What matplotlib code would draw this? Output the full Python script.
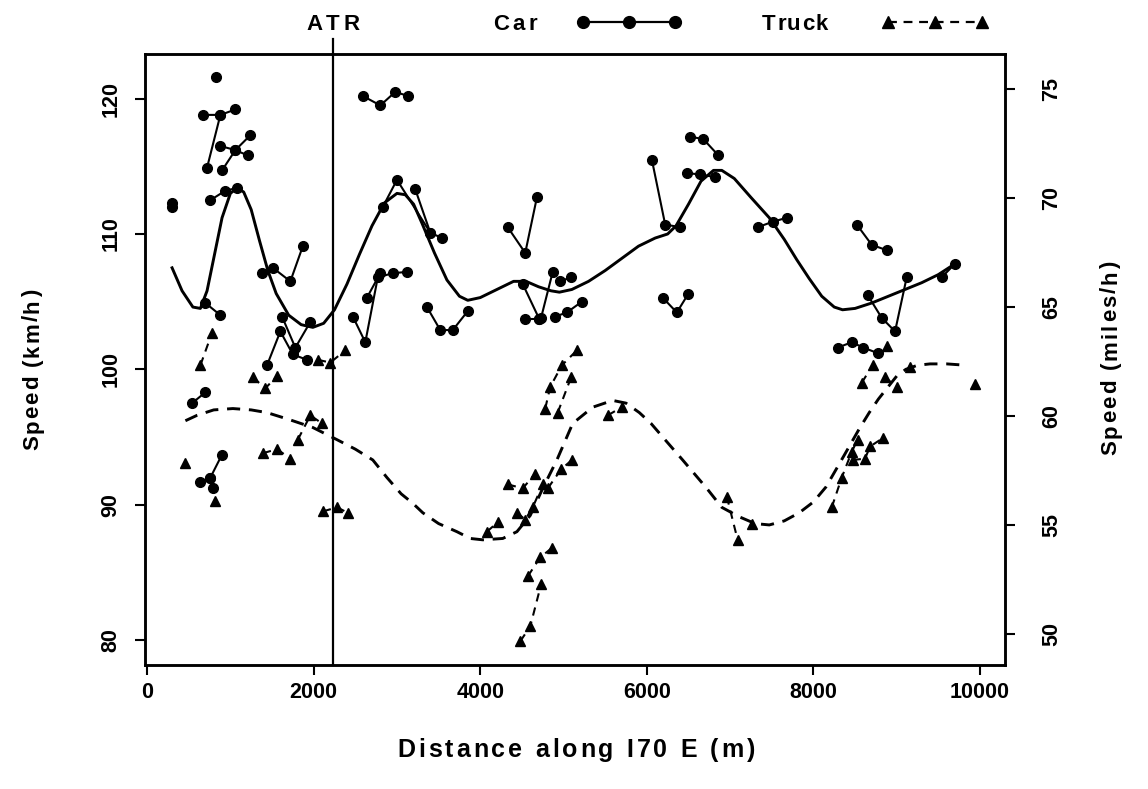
import numpy as np
import matplotlib
matplotlib.use("Agg")
import matplotlib.pyplot as plt
from matplotlib.lines import Line2D
from matplotlib.transforms import blended_transform_factory
from matplotlib.font_manager import FontProperties

FAMILY = ['Liberation Sans', 'DejaVu Sans']
plt.rcParams['font.family'] = FAMILY
plt.rcParams['font.weight'] = 'bold'

# ---------------- data ----------------
# car observations: distance (m), speed (km/h), trajectory id
car_dist = np.array([
    300, 300, 830,
    670, 880, 1060, 720, 880,
    900, 1060, 1240, 880, 1060, 1210,
    760, 940, 1080, 700, 880, 540, 700,
    640, 760, 900, 760, 790,
    1380, 1510, 1720, 1870, 1620, 1780, 1960,
    1440, 1600, 1750, 1920,
    2590, 2800, 2980, 3130,
    2830, 3000, 3400, 3540, 3220, 3400,
    2470, 2620, 2770, 2950, 3120, 2640, 2800,
    3360, 3520, 3670, 3850,
    4330, 4540, 4680, 4510, 4710, 4730, 4870, 4540, 4700,
    4900, 5040, 5220, 4960, 5090,
    6190, 6360, 6500, 6060, 6220, 6400,
    6520, 6680, 6860, 6480, 6640, 6820,
    7330, 7510, 7680, 8520, 8700, 8880,
    8650, 8820, 8980, 9120, 9540, 9700,
    8290, 8460, 8600, 8770])
car_speed = np.array([
    112.0, 112.3, 121.6,
    118.8, 118.8, 119.2, 114.9, 118.8,
    114.7, 116.2, 117.3, 116.5, 116.2, 115.8,
    112.5, 113.2, 113.4, 104.9, 104.0, 97.5, 98.3,
    91.7, 92.0, 93.7, 92.0, 91.2,
    107.1, 107.5, 106.5, 109.1, 103.9, 101.6, 103.5,
    100.3, 102.8, 101.1, 100.7,
    120.2, 119.5, 120.5, 120.2,
    112.0, 114.0, 110.1, 109.7, 113.3, 110.1,
    103.9, 102.0, 106.8, 107.1, 107.2, 105.3, 107.1,
    104.6, 102.9, 102.9, 104.3,
    110.5, 108.6, 112.7, 106.3, 103.7, 103.8, 107.2, 103.7, 103.7,
    103.9, 104.2, 105.0, 106.5, 106.8,
    105.3, 104.2, 105.6, 115.5, 110.7, 110.5,
    117.2, 117.0, 115.8, 114.5, 114.4, 114.2,
    110.5, 110.9, 111.2, 110.7, 109.2, 108.8,
    105.5, 103.8, 102.8, 106.8, 106.8, 107.8,
    101.6, 102.0, 101.6, 101.2])
car_group = np.array([
    1, 1, 2,
    3, 3, 3, 4, 4,
    5, 5, 5, 6, 6, 6,
    7, 7, 7, 8, 8, 9, 9,
    10, 10, 10, 11, 11,
    12, 12, 12, 12, 13, 13, 13,
    14, 14, 14, 14,
    15, 15, 15, 15,
    16, 16, 16, 16, 17, 17,
    18, 18, 18, 18, 18, 19, 19,
    20, 20, 20, 20,
    21, 21, 21, 22, 22, 23, 23, 24, 24,
    25, 25, 25, 26, 26,
    27, 27, 27, 28, 28, 28,
    29, 29, 29, 30, 30, 30,
    31, 31, 31, 32, 32, 32,
    33, 33, 33, 33, 34, 34,
    35, 35, 35, 35])

# truck observations: distance (m), speed (km/h), trajectory id
truck_dist = np.array([
    460, 820, 640, 780,
    1270, 1420, 1560, 1390, 1560, 1720,
    1810, 1960, 2100, 2050, 2200, 2380, 2110, 2280, 2410,
    4080, 4210, 4330, 4510, 4660, 4440, 4540, 4630, 4750,
    4480, 4600, 4730, 4570, 4720, 4860,
    4810, 4970, 5100, 4780, 4840, 4980, 5160, 4930, 5090,
    5530, 5700, 6960, 7090, 7260,
    8220, 8340, 8460, 8530, 8470, 8620, 8680, 8830,
    8580, 8710, 8880, 8860, 9000, 9160, 9940])
truck_speed = np.array([
    93.1, 90.3, 100.3, 102.7,
    99.4, 98.6, 99.5, 93.8, 94.1, 93.4,
    94.8, 96.6, 96.0, 100.7, 100.5, 101.4, 89.5, 89.8, 89.4,
    88.0, 88.7, 91.5, 91.2, 92.3, 89.4, 88.9, 89.8, 91.5,
    79.9, 81.0, 84.1, 84.7, 86.1, 86.8,
    91.2, 92.6, 93.3, 97.1, 98.7, 100.3, 101.4, 96.8, 99.4,
    96.6, 97.2, 90.6, 87.4, 88.6,
    89.8, 92.0, 93.9, 94.8, 93.3, 93.4, 94.3, 94.9,
    99.0, 100.3, 101.7, 99.4, 98.7, 100.2, 98.9])
truck_group = np.array([
    1, 2, 3, 3,
    4, 4, 4, 5, 5, 5,
    6, 6, 6, 7, 7, 7, 8, 8, 8,
    9, 9, 10, 10, 10, 11, 11, 11, 11,
    12, 12, 12, 13, 13, 13,
    14, 14, 14, 15, 15, 15, 15, 16, 16,
    17, 17, 18, 18, 19,
    20, 20, 20, 20, 21, 21, 21, 21,
    22, 22, 22, 23, 23, 24, 25])

# smoothed mean speed curves
car_curve_dist = np.array([
    300, 420, 550, 640, 720, 800, 900, 1000, 1080, 1160, 1250, 1350, 1450,
    1550, 1700, 1850, 1990, 2120, 2250, 2400, 2550, 2700, 2850, 3000, 3100,
    3200, 3300, 3450, 3600, 3750, 3850, 4000, 4200, 4400, 4550, 4700, 4850,
    4950, 5100, 5300, 5500, 5700, 5900, 6100, 6250, 6350, 6500, 6650, 6800,
    6900, 7050, 7250, 7470, 7650, 7800, 7950, 8100, 8250, 8350, 8500, 8700,
    8900, 9100, 9300, 9500, 9700])
car_curve_speed = np.array([
    107.5, 105.8, 104.6, 104.5, 105.8, 108.2, 111.2, 113.0, 113.4, 113.1,
    111.8, 109.5, 107.3, 105.6, 104.0, 103.3, 103.1, 103.4, 104.4, 106.3,
    108.5, 110.6, 112.3, 113.0, 112.9, 112.2, 110.8, 108.6, 106.6, 105.4,
    105.1, 105.3, 105.9, 106.5, 106.5, 106.1, 105.8, 105.7, 105.9, 106.5,
    107.3, 108.2, 109.1, 109.7, 110.0, 110.6, 112.2, 113.9, 114.7, 114.7,
    114.1, 112.7, 111.2, 109.6, 108.1, 106.7, 105.4, 104.6, 104.4, 104.5,
    104.9, 105.4, 105.9, 106.4, 107.0, 107.8])

truck_curve_dist = np.array([
    460, 600, 800, 1030, 1250, 1440, 1700, 1990, 2280, 2500, 2710, 2880,
    3050, 3190, 3310, 3500, 3720, 3880, 4030, 4270, 4440, 4600, 4750, 4920,
    5110, 5350, 5590, 5750, 5910, 6050, 6190, 6430, 6720, 6900, 7110, 7300,
    7470, 7650, 7830, 8000, 8150, 8300, 8430, 8550, 8670, 8780, 8870, 9000,
    9110, 9250, 9400, 9600, 9830])
truck_curve_speed = np.array([
    96.2, 96.6, 97.0, 97.1, 97.0, 96.8, 96.3, 95.7, 94.8, 94.1, 93.3, 92.0,
    90.8, 90.1, 89.4, 88.6, 88.0, 87.5, 87.4, 87.5, 88.0, 89.2, 91.2, 93.3,
    96.0, 97.2, 97.7, 97.5, 96.8, 96.0, 95.0, 93.3, 91.2, 89.8, 89.1, 88.6,
    88.5, 88.8, 89.4, 90.2, 91.3, 92.9, 94.3, 95.6, 96.8, 97.8, 98.5, 99.5,
    100.0, 100.3, 100.4, 100.4, 100.3])

atr_dist = 2230
x_ticks = [0, 2000, 4000, 6000, 8000, 10000]
y_ticks_kmh = [80, 90, 100, 110, 120]
y_ticks_mph = [50, 55, 60, 65, 70, 75]
KMH_PER_MPH = 1.609344

# ---------------- figure ----------------
W, H = 1148, 789
fig = plt.figure(figsize=(W / 100, H / 100), dpi=100)
ax = fig.add_axes([145 / W, 1 - 665 / H, 860 / W, 611 / H])
renderer = fig.canvas.get_renderer()


def tracked_text(s, cx, cy, size, target_w, rotation=0):
    """Bold text centred at pixel (cx, cy) with letter spacing so that it
    spans target_w pixels (horizontal, or vertical when rotation=90)."""
    fp = FontProperties(family=FAMILY, weight='bold', size=size)

    def width(t):
        return renderer.get_text_width_height_descent(t, fp, ismath=False)[0]

    base = width('||')
    widths = [width('|' + ch + '|') - base for ch in s]
    track = (target_w - sum(widths)) / max(len(s) - 1, 1)
    total = sum(widths) + track * (len(s) - 1)
    cap = 0.729 * size * 100 / 72
    pos = -total / 2
    for ch, w in zip(s, widths):
        c = pos + w / 2
        if ch != ' ':
            if rotation == 0:
                x, y = cx + c, cy + cap / 2
            else:
                x, y = cx + cap / 2, cy - c
            fig.text(x / W, 1 - y / H, ch, fontproperties=fp,
                     rotation=rotation, rotation_mode='anchor',
                     ha='center', va='baseline')
        pos += w + track


lw_seg = 1.5
for g in np.unique(car_group):
    m = car_group == g
    ax.plot(car_dist[m], car_speed[m], color='k', lw=lw_seg, marker='o',
            ms=7, mfc='k', mec='k', solid_capstyle='round')
for g in np.unique(truck_group):
    m = truck_group == g
    ax.plot(truck_dist[m], truck_speed[m], color='k', lw=lw_seg,
            ls=(0, (4, 3)), marker='^', ms=7, mfc='k', mec='k')

ax.plot(car_curve_dist, car_curve_speed, color='k', lw=2.1)
ax.plot(truck_curve_dist, truck_curve_speed, color='k', lw=2.1,
        ls=(0, (4.5, 3)))

ylo, yhi = 78.15, 123.3
ax.set_xlim(-25, 10300)
ax.set_ylim(ylo, yhi)
ax.set_xticks(x_ticks)
ax.set_xticklabels([str(v) for v in x_ticks])
ax.set_yticks(y_ticks_kmh)
ax.set_yticklabels([str(v) for v in y_ticks_kmh])

# ATR marker line extending above the frame
tr = blended_transform_factory(ax.transData, ax.transAxes)
ax.plot([atr_dist, atr_dist], [0, 1.025], transform=tr, color='k', lw=1.6,
        clip_on=False)

ax2 = ax.twinx()
ax2.set_ylim(ylo / KMH_PER_MPH, yhi / KMH_PER_MPH)
ax2.set_yticks(y_ticks_mph)
ax2.set_yticklabels([str(v) for v in y_ticks_mph])

for a in (ax, ax2):
    for s in a.spines.values():
        s.set_linewidth(1.8)

ax.tick_params(axis='both', direction='out', length=7, width=1.5,
               labelsize=15.5)
ax.tick_params(axis='x', pad=5)
ax.tick_params(axis='y', pad=10)
ax2.tick_params(axis='y', direction='out', length=7, width=1.5,
                labelsize=15.5, pad=19)
for lab in ax.get_yticklabels():
    lab.set_rotation(90)
    lab.set_va('center')
    lab.set_ha('right')
for lab in ax2.get_yticklabels():
    lab.set_rotation(90)
    lab.set_va('center')
    lab.set_ha('left')

# axis titles and top legend row (letter-spaced like the original)
tracked_text('Distance along I70 E (m)', 576, 748, 18, 358)
tracked_text('Speed (km/h)', 30, 370, 16, 160, rotation=90)
tracked_text('Speed (miles/h)', 1108, 358, 16, 193, rotation=90)
ax_x0 = ax.transData.transform((atr_dist, 0))[0]
tracked_text('ATR', ax_x0, 22, 16, 53)
tracked_text('Car', 515, 22, 16, 44)
tracked_text('Truck', 795, 22, 16, 66)

ly = 1 - 22 / H
fig.add_artist(Line2D(np.array([583, 629, 675]) / W, [ly] * 3,
                      transform=fig.transFigure, color='k', lw=1.6,
                      marker='o', ms=8.5, mfc='k', mec='k'))
fig.add_artist(Line2D(np.array([888, 935, 982]) / W, [ly] * 3,
                      transform=fig.transFigure, color='k', lw=1.6,
                      ls=(0, (4, 3)), marker='^', ms=8.5, mfc='k', mec='k'))

fig.savefig('out.png', dpi=100, facecolor='white')
